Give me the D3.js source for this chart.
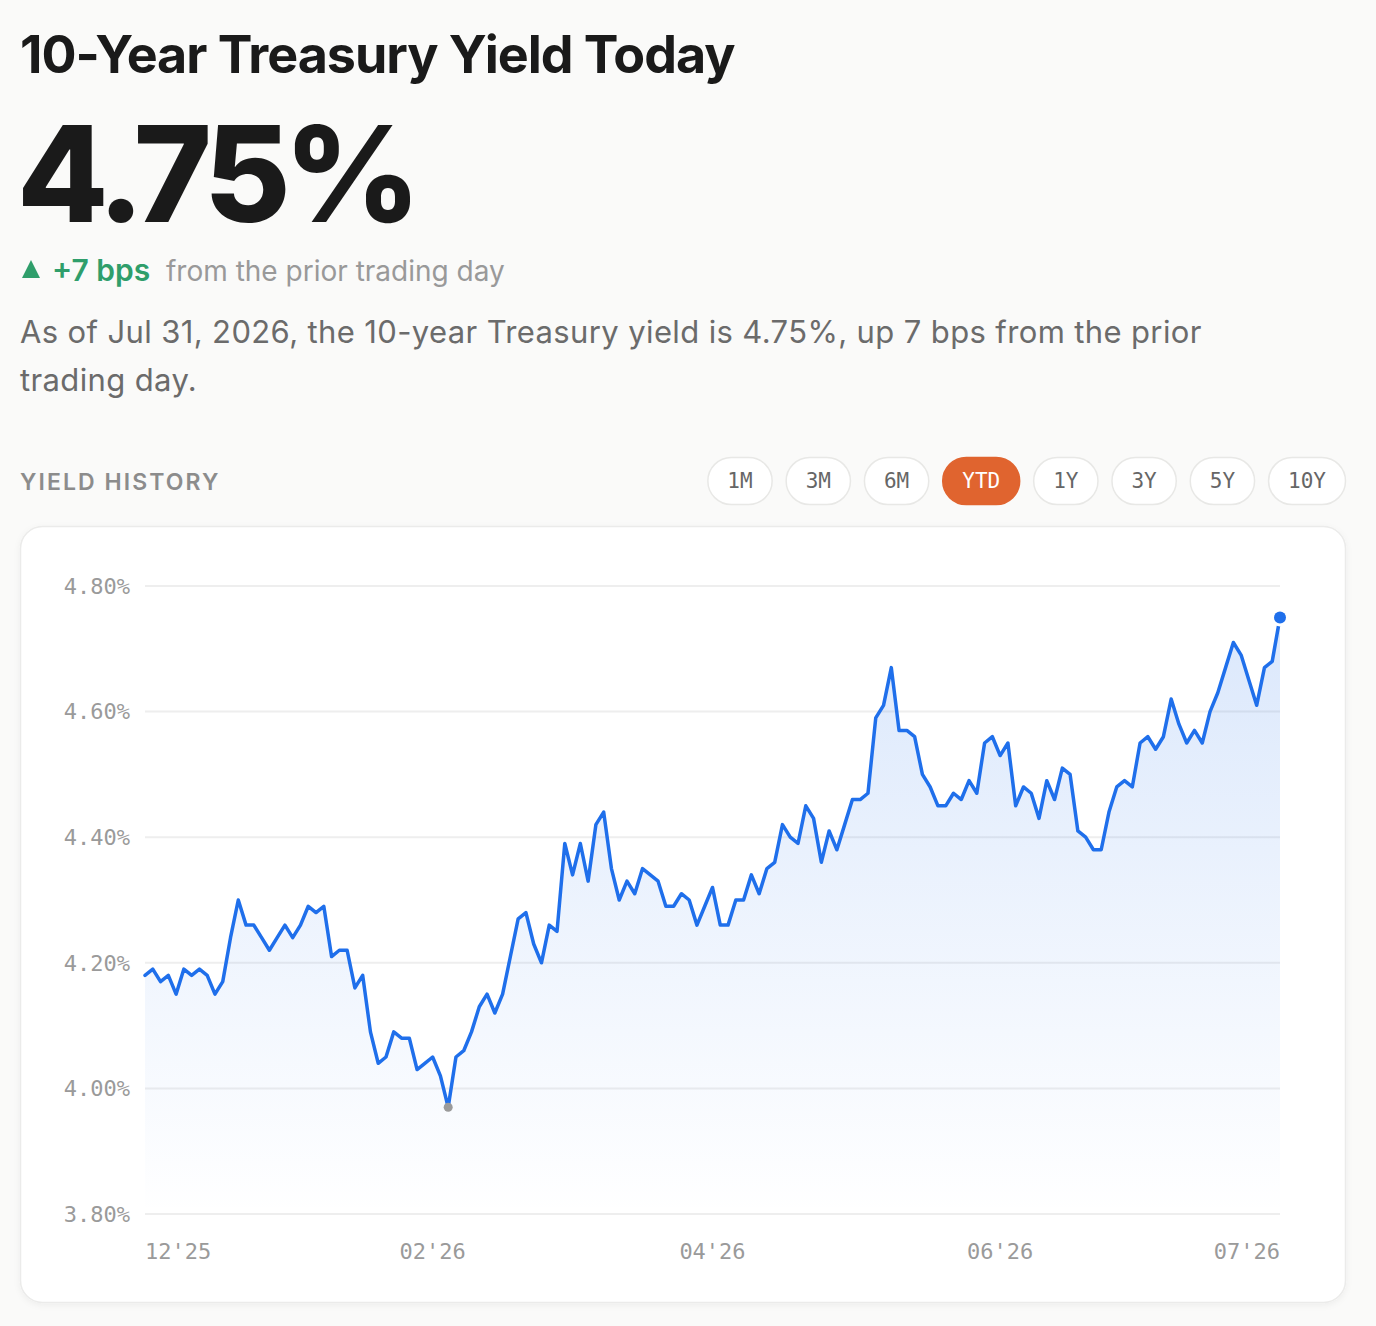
<!DOCTYPE html>
<html>
<head>
<meta charset="utf-8">
<script src="https://cdn.jsdelivr.net/npm/d3@7"></script>
<style>
  body { margin: 0; background: #fafaf9; }
  svg { display: block; }
</style>
</head>
<body>
<div id="page"></div>
<script>
/* 10-year yield card */

const yields = [
  4.18, 4.19, 4.17, 4.18, 4.15, 4.19, 4.18, 4.19, 4.18, 4.15,
  4.17, 4.24, 4.30, 4.26, 4.26, 4.24, 4.22, 4.24, 4.26, 4.24,
  4.26, 4.29, 4.28, 4.29, 4.21, 4.22, 4.22, 4.16, 4.18, 4.09,
  4.04, 4.05, 4.09, 4.08, 4.08, 4.03, 4.04, 4.05, 4.02, 3.97,
  4.05, 4.06, 4.09, 4.13, 4.15, 4.12, 4.15, 4.21, 4.27, 4.28,
  4.23, 4.20, 4.26, 4.25, 4.39, 4.34, 4.39, 4.33, 4.42, 4.44,
  4.35, 4.30, 4.33, 4.31, 4.35, 4.34, 4.33, 4.29, 4.29, 4.31,
  4.30, 4.26, 4.29, 4.32, 4.26, 4.26, 4.30, 4.30, 4.34, 4.31,
  4.35, 4.36, 4.42, 4.40, 4.39, 4.45, 4.43, 4.36, 4.41, 4.38,
  4.42, 4.46, 4.46, 4.47, 4.59, 4.61, 4.67, 4.57, 4.57, 4.56,
  4.50, 4.48, 4.45, 4.45, 4.47, 4.46, 4.49, 4.47, 4.55, 4.56,
  4.53, 4.55, 4.45, 4.48, 4.47, 4.43, 4.49, 4.46, 4.51, 4.50,
  4.41, 4.40, 4.38, 4.38, 4.44, 4.48, 4.49, 4.48, 4.55, 4.56,
  4.54, 4.56, 4.62, 4.58, 4.55, 4.57, 4.55, 4.60, 4.63, 4.67,
  4.71, 4.69, 4.65, 4.61, 4.67, 4.68, 4.75
];
const yTicks = [3.8, 4.0, 4.2, 4.4, 4.6, 4.8];
const xTickLabels = ["12'25", "02'26", "04'26", "06'26", "07'26"];
const ranges = ["1M", "3M", "6M", "YTD", "1Y", "3Y", "5Y", "10Y"];
const activeRange = "YTD";
const asOf = "Jul 31, 2026";
const changeBps = 7;

const W = 1376, H = 1326;
const SANS = "Inter, 'Noto Sans', sans-serif";
const MONO = "'DejaVu Sans Mono', 'Liberation Mono', monospace";

const current = yields[yields.length - 1];

const svg = d3.select("#page").append("svg")
  .attr("width", W)
  .attr("height", H);

// Header
svg.append("text")
  .attr("x", 20).attr("y", 73)
  .attr("font-family", SANS).attr("font-size", 52).attr("font-weight", 700)
  .attr("letter-spacing", "-0.02em")
  .attr("fill", "#1a1a1a")
  .text("10-Year Treasury Yield Today");

svg.append("text")
  .attr("x", 17).attr("y", 222)
  .attr("font-family", SANS).attr("font-size", 133).attr("font-weight", 800)
  .attr("letter-spacing", "-0.05em")
  .attr("fill", "#1a1a1a")
  .text(current.toFixed(2) + "%");

svg.append("path")
  .attr("d", "M31,260 L40,278 L22,278 Z")
  .attr("fill", "#2f9e6b");

svg.append("text")
  .attr("x", 52).attr("y", 281)
  .attr("font-family", SANS).attr("font-size", 30).attr("font-weight", 600)
  .attr("fill", "#2f9e6b")
  .text(`+${changeBps} bps`);

svg.append("text")
  .attr("x", 166).attr("y", 281)
  .attr("font-family", SANS).attr("font-size", 28)
  .attr("fill", "#999")
  .text("from the prior trading day");

const para = svg.append("text")
  .attr("font-family", SANS).attr("font-size", 31)
  .attr("letter-spacing", "0.012em")
  .attr("fill", "#6b6b6b");
para.append("tspan").attr("x", 20).attr("y", 343)
  .text(`As of ${asOf}, the 10-year Treasury yield is ${current.toFixed(2)}%, up ${changeBps} bps from the prior`);
para.append("tspan").attr("x", 20).attr("y", 391)
  .text("trading day.");

svg.append("text")
  .attr("x", 20).attr("y", 490)
  .attr("font-family", SANS).attr("font-size", 23).attr("font-weight", 600)
  .attr("letter-spacing", "0.09em")
  .attr("fill", "#8c8c8c")
  .text("YIELD HISTORY");

// Range buttons, right aligned
const btnG = svg.append("g");
const btnH = 48, btnGap = 13, btnPad = 20, btnRight = 1346, btnTop = 457;
const btns = btnG.selectAll("g")
  .data(ranges)
  .join("g");
btns.append("text")
  .attr("font-family", MONO).attr("font-size", 21).attr("font-weight", 500)
  .attr("text-anchor", "middle")
  .attr("dy", "0.35em")
  .attr("fill", d => d === activeRange ? "#fff" : "#666")
  .text(d => d);
const widths = [];
btns.each(function () {
  widths.push(d3.select(this).select("text").node().getComputedTextLength() + btnPad * 2);
});
let bx = btnRight - d3.sum(widths) - btnGap * (ranges.length - 1);
btns.each(function (d, i) {
  const g = d3.select(this).attr("transform", `translate(${bx},${btnTop})`);
  g.insert("rect", "text")
    .attr("x", 0.5).attr("y", 0.5)
    .attr("width", widths[i] - 1).attr("height", btnH - 1)
    .attr("rx", (btnH - 1) / 2)
    .attr("fill", d === activeRange ? "#e0642f" : "#fff")
    .attr("stroke", d === activeRange ? "#e0642f" : "#e8e8e6")
    .attr("stroke-width", 1.5);
  g.select("text").attr("x", widths[i] / 2).attr("y", btnH / 2);
  bx += widths[i] + btnGap;
});

// Card
const defs = svg.append("defs");
const shadow = defs.append("filter").attr("id", "card-shadow")
  .attr("x", "-5%").attr("y", "-5%").attr("width", "110%").attr("height", "110%");
shadow.append("feDropShadow")
  .attr("dx", 0).attr("dy", 2).attr("stdDeviation", 3)
  .attr("flood-color", "#000").attr("flood-opacity", 0.05);

svg.append("rect")
  .attr("x", 20.5).attr("y", 526.5)
  .attr("width", 1325).attr("height", 776)
  .attr("rx", 22)
  .attr("fill", "#fff")
  .attr("stroke", "#ebebea")
  .attr("stroke-width", 1.5)
  .attr("filter", "url(#card-shadow)");

// Chart
const x = d3.scaleLinear().domain([0, yields.length - 1]).range([145, 1280]);
const y = d3.scaleLinear().domain([3.8, 4.8]).range([1214, 586]);

svg.append("g")
  .selectAll("line")
  .data(yTicks)
  .join("line")
  .attr("x1", x.range()[0]).attr("x2", x.range()[1])
  .attr("y1", d => y(d)).attr("y2", d => y(d))
  .attr("stroke", "#eeeeee")
  .attr("stroke-width", 2);

svg.append("g")
  .selectAll("text")
  .data(yTicks)
  .join("text")
  .attr("x", 130)
  .attr("y", d => y(d))
  .attr("dy", "0.35em")
  .attr("text-anchor", "end")
  .attr("font-family", MONO).attr("font-size", 22)
  .attr("fill", "#9a9a9a")
  .text(d => d.toFixed(2) + "%");

const m = xTickLabels.length;
svg.append("g")
  .selectAll("text")
  .data(xTickLabels)
  .join("text")
  .attr("x", (d, i) => x(Math.round(i * (yields.length - 1) / (m - 1))))
  .attr("y", 1259)
  .attr("text-anchor", (d, i) => i === 0 ? "start" : i === m - 1 ? "end" : "middle")
  .attr("font-family", MONO).attr("font-size", 22)
  .attr("fill", "#9a9a9a")
  .text(d => d);

const grad = defs.append("linearGradient")
  .attr("id", "area-grad")
  .attr("gradientUnits", "userSpaceOnUse")
  .attr("x1", 0).attr("x2", 0)
  .attr("y1", y(d3.max(yields))).attr("y2", y(3.8));
grad.append("stop").attr("offset", "0%").attr("stop-color", "#1f6feb").attr("stop-opacity", 0.16);
grad.append("stop").attr("offset", "100%").attr("stop-color", "#1f6feb").attr("stop-opacity", 0.0);

const area = d3.area()
  .x((d, i) => x(i))
  .y0(y(3.8))
  .y1(d => y(d));

const line = d3.line()
  .x((d, i) => x(i))
  .y(d => y(d));

svg.append("path")
  .datum(yields)
  .attr("d", area)
  .attr("fill", "url(#area-grad)");

svg.append("path")
  .datum(yields)
  .attr("d", line)
  .attr("fill", "none")
  .attr("stroke", "#1f6feb")
  .attr("stroke-width", 3.5)
  .attr("stroke-linejoin", "round")
  .attr("stroke-linecap", "round");

// Low point and latest point
const minIdx = d3.minIndex(yields);
svg.append("circle")
  .attr("cx", x(minIdx)).attr("cy", y(yields[minIdx]))
  .attr("r", 4.5)
  .attr("fill", "#9a9a9a");

const last = yields.length - 1;
svg.append("circle")
  .attr("cx", x(last)).attr("cy", y(yields[last]))
  .attr("r", 9)
  .attr("fill", "#fff");
svg.append("circle")
  .attr("cx", x(last)).attr("cy", y(yields[last]))
  .attr("r", 6)
  .attr("fill", "#1f6feb");
</script>
</body>
</html>
